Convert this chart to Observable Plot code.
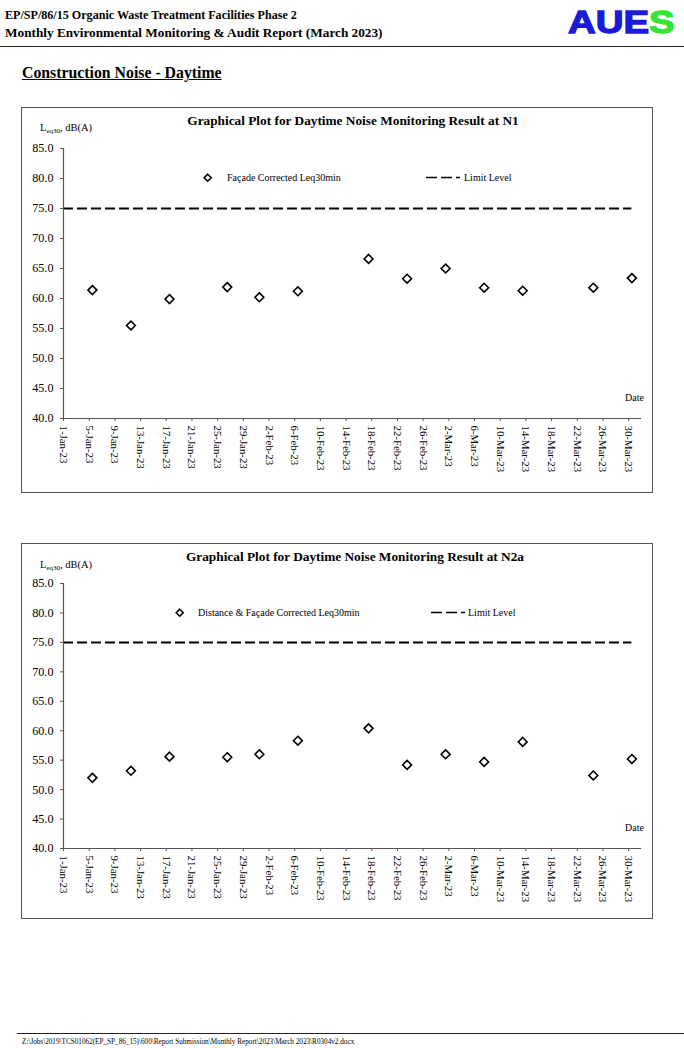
<!DOCTYPE html>
<html><head><meta charset="utf-8">
<script src="https://cdn.jsdelivr.net/npm/d3@7"></script>
<script src="https://cdn.jsdelivr.net/npm/@observablehq/plot@0.6"></script>
<style>
body{margin:0;background:#fff;}
#page{position:relative;width:684px;height:1048px;font-family:"Liberation Serif","Times New Roman",serif;color:#000;overflow:hidden;background:#fff}
.abs{position:absolute;white-space:nowrap;line-height:1}
.box{position:absolute;border:1px solid #555;box-sizing:border-box}
.plot{position:absolute}
.leg{font-size:10px}
.title{font-size:13.3px;font-weight:bold;text-align:center}
.ylab{font-size:10.5px}
.ylab sub{font-size:7px;vertical-align:-2px}
</style></head><body><div id="page">
<div class="abs" style="left:5px;top:9px;font-size:12.5px;font-weight:bold;transform:scaleX(0.967);transform-origin:left top">EP/SP/86/15 Organic Waste Treatment Facilities Phase 2</div>
<div class="abs" style="left:5px;top:27px;font-size:12.5px;font-weight:bold;transform:scaleX(1.06);transform-origin:left top">Monthly Environmental Monitoring &amp; Audit Report (March 2023)</div>
<div class="abs" style="left:568px;top:6px;font-family:'Liberation Sans',Arial,sans-serif;font-weight:bold;font-size:32px;transform:scaleX(1.2);transform-origin:left top;-webkit-text-stroke:1.3px currentColor"><span style="color:#1a1ad8">AUE</span><span style="color:#33e633">S</span></div>
<div class="abs" style="left:0;top:46px;width:684px;height:0;border-top:1.5px solid #222"></div>
<div class="abs" style="left:22px;top:65px;font-size:15.8px;font-weight:bold;text-decoration:underline">Construction Noise - Daytime</div>

<div class="box" style="left:21px;top:107px;width:632px;height:386px"></div>
<div id="c1" class="plot" style="left:21px;top:107px"></div>
<div class="abs title" style="left:21px;width:664px;top:114px">Graphical Plot for Daytime Noise Monitoring Result at N1</div>
<div class="abs ylab" style="left:40px;top:123px">L<sub>eq30</sub>, dB(A)</div>
<div class="abs leg" style="left:227px;top:173px">Façade Corrected Leq30min</div>
<div class="abs leg" style="left:464px;top:173px">Limit Level</div>
<div class="abs leg" style="left:625px;top:393px">Date</div>
<svg class="abs" style="left:200px;top:171px" width="16" height="14"><path d="M7.7,3.2 L11.2,6.7 L7.7,10.2 L4.2,6.7Z" fill="#fff" stroke="#000" stroke-width="1.6"/></svg>
<svg class="abs" style="left:426px;top:172px" width="36" height="10"><line x1="0" y1="5.5" x2="36" y2="5.5" stroke="#000" stroke-width="1.6" stroke-dasharray="11,4,11,4,4"/></svg>

<div class="box" style="left:21px;top:543px;width:632px;height:376px"></div>
<div id="c2" class="plot" style="left:21px;top:543px"></div>
<div class="abs title" style="left:21px;width:668px;top:550px">Graphical Plot for Daytime Noise Monitoring Result at N2a</div>
<div class="abs ylab" style="left:40px;top:560px">L<sub>eq30</sub>, dB(A)</div>
<div class="abs leg" style="left:198px;top:608px">Distance &amp; Façade Corrected Leq30min</div>
<div class="abs leg" style="left:468px;top:608px">Limit Level</div>
<div class="abs leg" style="left:625px;top:823px">Date</div>
<svg class="abs" style="left:172px;top:606px" width="16" height="14"><path d="M7.7,3.2 L11.2,6.7 L7.7,10.2 L4.2,6.7Z" fill="#fff" stroke="#000" stroke-width="1.6"/></svg>
<svg class="abs" style="left:431px;top:607px" width="36" height="10"><line x1="0" y1="5.5" x2="36" y2="5.5" stroke="#000" stroke-width="1.6" stroke-dasharray="11,4,11,4,4"/></svg>

<div class="abs" style="left:17px;top:1033px;width:667px;height:0;border-top:1.2px solid #222"></div>
<div class="abs" style="left:22px;top:1039px;font-size:7.2px">Z:\Jobs\2019\TCS01062(EP_SP_86_15)\600\Report Submission\Monthly Report\2023\March 2023\R0304v2.docx</div>
</div>
<script>
// ---- data ----
const sampleDates = ["2023-01-05T12:00Z","2023-01-11T12:00Z","2023-01-17T12:00Z","2023-01-26T12:00Z","2023-01-31T12:00Z","2023-02-06T12:00Z","2023-02-17T12:00Z","2023-02-23T12:00Z","2023-03-01T12:00Z","2023-03-07T12:00Z","2023-03-13T12:00Z","2023-03-24T12:00Z","2023-03-30T12:00Z"];
const n1Values  = [61.4, 55.5, 59.9, 61.9, 60.2, 61.2, 66.6, 63.3, 65.0, 61.8, 61.3, 61.8, 63.4];
const n2aValues = [52.0, 53.2, 55.6, 55.5, 56.0, 58.3, 60.4, 54.2, 56.0, 54.7, 58.1, 52.4, 55.2];
const limitLevel = 75;
const limitSpan = ["2023-01-01T00:00Z", "2023-03-30T12:00Z"];
const xDomain = ["2023-01-01T00:00Z", "2023-04-01T00:00Z"];
const xTickDates = ["2023-01-01","2023-01-05","2023-01-09","2023-01-13","2023-01-17","2023-01-21","2023-01-25","2023-01-29","2023-02-02","2023-02-06","2023-02-10","2023-02-14","2023-02-18","2023-02-22","2023-02-26","2023-03-02","2023-03-06","2023-03-10","2023-03-14","2023-03-18","2023-03-22","2023-03-26","2023-03-30"];
const yTicks = [40, 45, 50, 55, 60, 65, 70, 75, 80, 85];
const yDomain = [40, 85];

function makeChart(values, height, marginTop, marginBottom) {
  const data = sampleDates.map((d, i) => ({date: new Date(d), value: values[i]}));
  const ticksX = xTickDates.map(d => new Date(d + "T00:00Z"));
  return Plot.plot({
    width: 632, height, marginLeft: 42, marginRight: 12, marginTop, marginBottom,
    style: {fontFamily: "'Liberation Serif', serif", fontSize: "11px", background: "transparent", color: "#000", overflow: "visible"},
    x: {type: "utc", domain: xDomain.map(d => new Date(d)), label: null},
    y: {domain: yDomain, label: null},
    marks: [
      Plot.axisX({ticks: ticksX, tickFormat: d3.utcFormat("%-d-%b-%y"), tickRotate: 90, tickSize: 3, tickPadding: 4, stroke: "#555", fontSize: 10.8, label: null}),
      Plot.axisY({ticks: yTicks, tickFormat: d3.format(".1f"), tickSize: 3, tickPadding: 7, stroke: "#555", fontSize: 12.2, label: null}),
      Plot.ruleY([limitLevel], {x1: new Date(limitSpan[0]), x2: new Date(limitSpan[1]), stroke: "#000", strokeWidth: 2, strokeDasharray: "10,4"}),
      Plot.ruleX([new Date(xDomain[0])], {y1: yDomain[0], y2: yDomain[1], stroke: "#555", strokeWidth: 1.2}),
      Plot.ruleY([yDomain[0]], {stroke: "#555", strokeWidth: 1.2}),
      Plot.dot(data, {x: "date", y: "value", symbol: "diamond2", r: 4, fill: "#fff", stroke: "#000", strokeWidth: 1.6})
    ]
  });
}
document.getElementById("c1").appendChild(makeChart(n1Values, 386, 41, 75));
document.getElementById("c2").appendChild(makeChart(n2aValues, 376, 40, 71));
</script>
</body></html>
